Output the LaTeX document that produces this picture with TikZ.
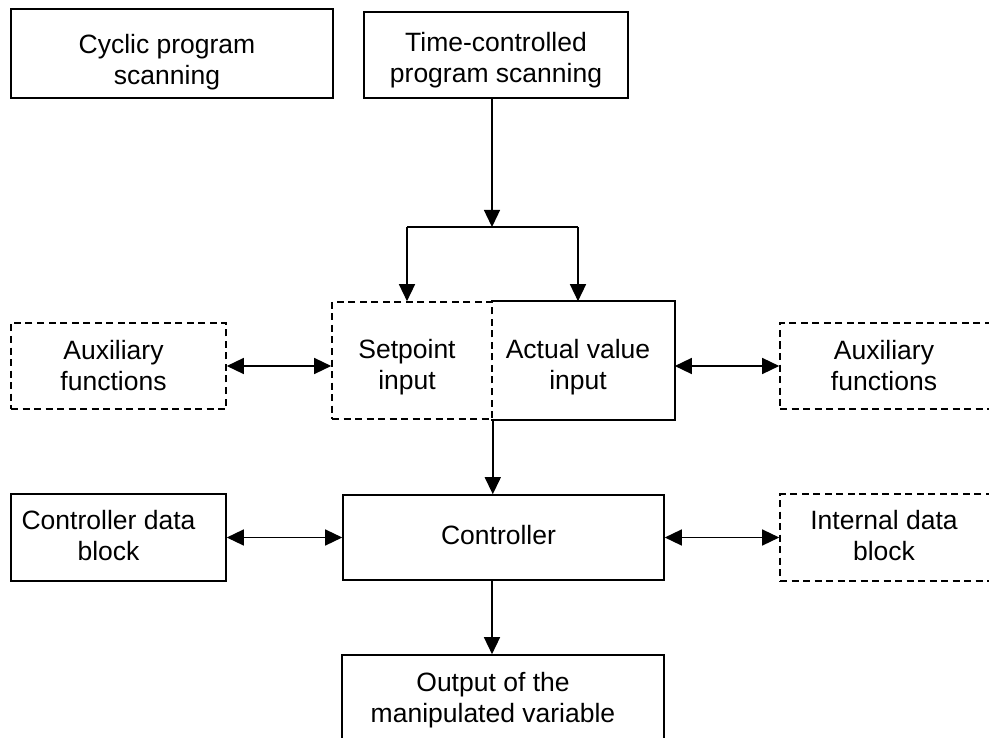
\documentclass[tikz,border=0pt]{standalone}
\usepackage{fontspec}
\setmainfont{Liberation Sans}
\usetikzlibrary{arrows.meta}
% a little room after each line moves centred text slightly to the left
\newcommand\rpad{\hspace*{10pt}}
\begin{document}
\begin{tikzpicture}[x=1pt,y=-1pt,
  box/.style={draw, line width=1.6pt, rectangle, inner sep=0pt, align=center,
    font=\fontsize{26.5}{31}\selectfont, text depth=0pt},
  dbox/.style={box, dash pattern=on 7pt off 4.5pt},
  tbox/.style={box, draw=none},
  arr/.style={line width=1.4pt, -{Triangle[length=17pt,width=16pt]}},
  darr/.style={line width=1.4pt, {Triangle[length=17pt,width=16pt]}-{Triangle[length=17pt,width=16pt]}}]
\useasboundingbox (0,0) rectangle (989,738);

% top row
\node[box, minimum width=322pt, minimum height=89pt, text height=62pt] (cyc) at (172,53.5) {Cyclic program\rpad\\scanning\rpad};
\node[box, minimum width=264pt, minimum height=86pt, text height=56pt] (tcp) at (496,55) {Time-controlled\\program scanning};

% input row
\node[dbox, minimum width=160pt, minimum height=117pt, text height=57pt] (sp) at (412,360.5) {Setpoint\rpad\\input\rpad};
\node[tbox, minimum width=182pt, minimum height=117pt, text height=57pt] (av) at (583,360.5) {Actual value\rpad\\input\rpad};
\draw[line width=1.6pt] (av.north west) -- (av.north east) -- (av.south east) -- (av.south west);
\node[dbox, minimum width=215pt, minimum height=86pt, text height=48pt] (auxl) at (118.5,366) {Auxiliary\rpad\\functions\rpad};
\node[dbox, minimum width=218pt, minimum height=86pt, text height=48pt] (auxr) at (889,366) {Auxiliary\rpad\\functions\rpad};

% controller row
\node[box, minimum width=215pt, minimum height=87pt, text height=46pt] (cdb) at (118.5,537.5) {Controller data\rpad\rpad\\block\rpad\rpad};
\node[box, minimum width=321pt, minimum height=85pt, text height=14pt] (ctl) at (503.5,537.5) {Controller\rpad};
\node[dbox, minimum width=218pt, minimum height=87pt, text height=46pt] (idb) at (889,537.5) {Internal data\rpad\\block\rpad};

% output
\node[box, minimum width=322pt, minimum height=90pt, text height=44pt] (out) at (503,700) {Output of the\rpad\rpad\\manipulated variable\rpad\rpad};

% branch points
\coordinate (fork) at (492,227);
\coordinate (fl) at (407,227);
\coordinate (fr) at (578,227);

% connectors
\draw[arr] (tcp.south -| fork) -- (fork);
\draw[line width=1.4pt] (fl) -- (fr);
\draw[arr] (fl) -- (fl |- sp.north);
\draw[arr] (fr) -- (fr |- av.north);
\draw[arr] (sp.south east) -- (ctl.north -| sp.south east);
\draw[arr] (ctl.south -| fork) -- (out.north -| fork);

\draw[darr] (auxl.east) -- (auxl.east -| sp.west);
\draw[darr] (auxr.west -| av.east) -- (auxr.west);
\draw[darr] (cdb.east) -- (cdb.east -| ctl.west);
\draw[darr] (ctl.east) -- (ctl.east -| idb.west);
\end{tikzpicture}
\end{document}
